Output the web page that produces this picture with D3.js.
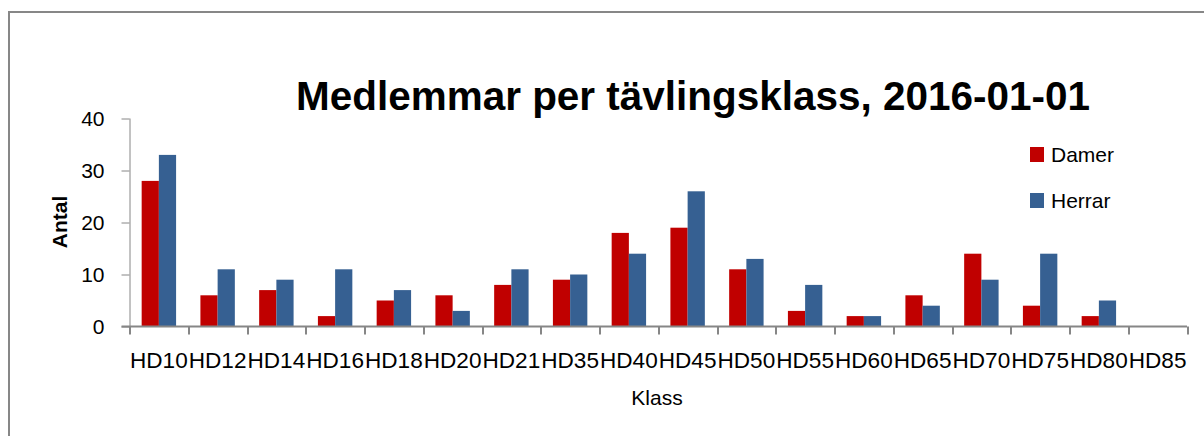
<!DOCTYPE html>
<meta charset="utf-8">
<script src="https://d3js.org/d3.v7.min.js"></script>
<html>
  <head>
    <style>
    body { margin: 0; background-color: white; }
    text { font-family: "Liberation Sans", Arial, sans-serif; fill: #000; }
    </style>
  </head>
  <body>
    <div id="my_dataviz"></div>
  </body>
</html>

<script>

// data
var klasser = ["HD10","HD12","HD14","HD16","HD18","HD20","HD21","HD35","HD40",
               "HD45","HD50","HD55","HD60","HD65","HD70","HD75","HD80","HD85"];
var damer  = [28, 6, 7, 2, 5, 6, 8, 9, 18, 19, 11, 3, 2, 6, 14, 4, 2, 0];
var herrar = [33, 11, 9, 11, 7, 3, 11, 10, 14, 26, 13, 8, 2, 4, 9, 14, 5, 0];
var serier = ["Damer", "Herrar"];
var yTicks = [0, 10, 20, 30, 40];

var farger = ["#C00000", "#366092"];
var axisColor = "#868686";

// frame of the plot area
var margin = {top: 118.5, left: 129.5},
    width = 1187 - 129.5,
    height = 326.5 - 118.5;

var svg = d3.select("#my_dataviz")
  .append("svg")
    .attr("width", 1204)
    .attr("height", 436);

// outer chart border (runs past the right and bottom edges)
svg.append("rect")
  .attr("x", 9)
  .attr("y", 12)
  .attr("width", 1240)
  .attr("height", 460)
  .style("fill", "none")
  .style("stroke", "#878787")
  .style("stroke-width", 2);

var g = svg.append("g")
  .attr("transform", "translate(" + margin.left + "," + margin.top + ")");

// scales
var x0 = d3.scaleBand()
  .domain(klasser)
  .range([0, width])
  .paddingInner(0.414)
  .paddingOuter(0.207);

var x1 = d3.scaleBand()
  .domain(serier)
  .range([0, x0.bandwidth()]);

var y = d3.scaleLinear()
  .domain([0, 40])
  .range([height, 0]);

var color = d3.scaleOrdinal().domain(serier).range(farger);

// Y axis
var yAxis = g.append("g")
  .call(d3.axisLeft(y).tickValues(yTicks).tickSize(8).tickPadding(17));
yAxis.select(".domain").attr("stroke", axisColor).attr("d", "M0.5," + y(0) + "V" + y(40));
yAxis.selectAll(".tick line").attr("stroke", axisColor);
yAxis.selectAll(".tick text")
  .style("font-family", "Liberation Sans")
  .style("font-size", "21px")
  .attr("fill", "#000");

// bars
var rows = klasser.map(function(k, i) {
  return {klass: k, values: [{s: "Damer", v: damer[i]}, {s: "Herrar", v: herrar[i]}]};
});

g.append("g")
  .selectAll("g")
  .data(rows)
  .enter()
  .append("g")
    .attr("transform", function(d) { return "translate(" + x0(d.klass) + ",0)"; })
  .selectAll("rect")
  .data(function(d) { return d.values; })
  .enter()
  .append("rect")
    .attr("x", function(d) { return x1(d.s); })
    .attr("y", function(d) { return y(d.v); })
    .attr("width", x1.bandwidth())
    .attr("height", function(d) { return y(0) - y(d.v); })
    .style("fill", function(d) { return color(d.s); });

// X axis: line, boundary ticks and labels
var xAxis = g.append("g").attr("transform", "translate(0," + height + ")");
xAxis.append("line")
  .attr("x1", -8).attr("x2", width)
  .attr("y1", 0).attr("y2", 0)
  .style("stroke", axisColor)
  .style("stroke-width", 2);
xAxis.selectAll(".xtick")
  .data(d3.range(klasser.length + 1))
  .enter()
  .append("line")
    .attr("class", "xtick")
    .attr("x1", function(i) { return Math.round(i * x0.step()) + 0.5; })
    .attr("x2", function(i) { return Math.round(i * x0.step()) + 0.5; })
    .attr("y1", 0).attr("y2", 8)
    .style("stroke", axisColor)
    .style("stroke-width", 2);
// labels are squeezed edge to edge like in the original
xAxis.selectAll(".xlabel")
  .data(klasser)
  .enter()
  .append("text")
    .attr("class", "xlabel")
    .attr("x", function(d) { return x0(d) + x0.bandwidth() / 2; })
    .attr("y", 41.5)
    .attr("text-anchor", "middle")
    .attr("textLength", x0.step() - 1)
    .attr("lengthAdjust", "spacingAndGlyphs")
    .style("font-size", "22px")
    .text(function(d) { return d; });

// title
svg.append("text")
  .attr("x", 693)
  .attr("y", 110)
  .attr("text-anchor", "middle")
  .attr("textLength", 794)
  .attr("lengthAdjust", "spacingAndGlyphs")
  .style("font-size", "40px")
  .style("font-weight", "bold")
  .text("Medlemmar per tävlingsklass, 2016-01-01");

// axis titles
svg.append("text")
  .attr("transform", "translate(67,222) rotate(-90)")
  .attr("text-anchor", "middle")
  .style("font-size", "21px")
  .style("font-weight", "bold")
  .text("Antal");

svg.append("text")
  .attr("x", 657)
  .attr("y", 405)
  .attr("text-anchor", "middle")
  .style("font-size", "21px")
  .text("Klass");

// legend
var legend = svg.selectAll(".legend")
  .data(serier)
  .enter()
  .append("g")
    .attr("class", "legend")
    .attr("transform", function(d, i) { return "translate(1030," + (147 + i * 46) + ")"; });
legend.append("rect")
  .attr("width", 14)
  .attr("height", 15)
  .style("fill", function(d) { return color(d); });
legend.append("text")
  .attr("x", 21)
  .attr("y", 15)
  .style("font-size", "21px")
  .text(function(d) { return d; });
</script>
